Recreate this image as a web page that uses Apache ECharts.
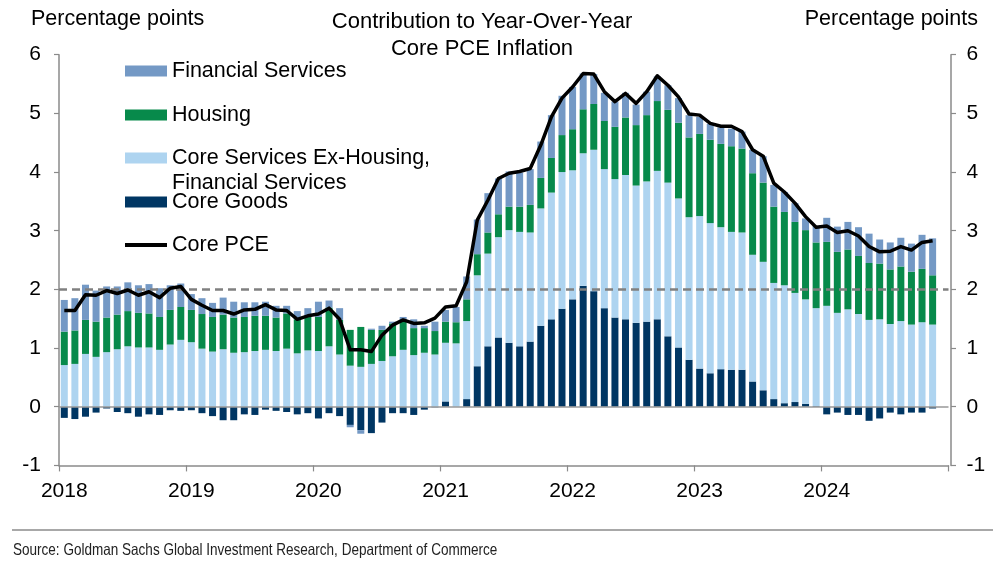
<!DOCTYPE html>
<html>
<head>
<meta charset="utf-8">
<script src="https://cdn.jsdelivr.net/npm/echarts@6/dist/echarts.min.js"></script>
<style>
html,body{margin:0;padding:0;background:#fff;}
#chart{width:993px;height:572px;}
</style>
</head>
<body>
<div id="chart"></div>
<script>
// Monthly categories: Jan 2018 .. Dec 2024 (data runs to Nov 2024)
const months = [];
for (let y = 2018; y <= 2024; y++) {
  for (let m = 1; m <= 12; m++) {
    months.push(y + '-' + String(m).padStart(2, '0'));
  }
}
const yearLabels = ['2018','2019','2020','2021','2022','2023','2024'];

const coreGoods = [
 -0.19,-0.21,-0.17,-0.10,-0.03,-0.09,-0.11,-0.17,-0.13,-0.14,-0.06,-0.07,
 -0.06,-0.11,-0.16,-0.23,-0.23,-0.13,-0.14,-0.05,-0.07,-0.09,-0.13,-0.11,
 -0.20,-0.11,-0.16,-0.31,-0.40,-0.45,-0.27,-0.11,-0.11,-0.14,-0.05,-0.01,
 0.09,0.00,0.13,0.69,1.03,1.18,1.09,1.03,1.11,1.38,1.49,1.67,
 1.83,2.06,1.97,1.68,1.52,1.49,1.43,1.45,1.49,1.20,1.01,0.80,
 0.65,0.57,0.64,0.63,0.63,0.43,0.28,0.13,0.06,0.08,0.05,0.01,
 -0.13,-0.10,-0.14,-0.14,-0.24,-0.20,-0.10,-0.13,-0.10,-0.10,-0.03
];
const coreServicesExHousingFin = [
 0.71,0.73,0.90,0.85,0.93,0.98,1.03,1.01,1.01,0.97,1.06,1.14,
 1.10,0.99,0.94,0.98,0.92,0.93,0.95,0.97,0.95,0.99,0.91,0.96,
 0.95,1.03,0.89,0.70,0.68,0.73,0.78,0.86,0.97,0.88,0.92,0.89,
 1.00,1.08,1.33,1.55,1.58,1.71,1.92,1.95,1.86,2.00,2.16,2.33,
 2.20,2.26,2.41,2.37,2.36,2.46,2.34,2.39,2.53,2.62,2.54,2.43,
 2.60,2.56,2.42,2.35,2.34,2.16,2.19,1.98,2.01,1.86,1.78,1.67,
 1.72,1.60,1.66,1.58,1.48,1.49,1.41,1.46,1.40,1.44,1.40
];
const housing = [
 0.57,0.57,0.58,0.60,0.59,0.59,0.60,0.59,0.58,0.56,0.59,0.56,
 0.55,0.59,0.59,0.59,0.60,0.60,0.60,0.58,0.57,0.60,0.58,0.57,
 0.58,0.66,0.59,0.61,0.68,0.58,0.53,0.56,0.51,0.46,0.42,0.40,
 0.36,0.36,0.37,0.36,0.36,0.39,0.40,0.43,0.47,0.52,0.59,0.63,
 0.70,0.75,0.78,0.82,0.89,0.98,1.03,1.13,1.19,1.24,1.29,1.36,
 1.40,1.42,1.42,1.46,1.43,1.39,1.35,1.30,1.25,1.21,1.18,1.12,
 1.09,1.04,1.02,0.99,0.97,0.95,0.93,0.93,0.90,0.91,0.84
];
const financialServices = [
 0.54,0.55,0.60,0.53,0.53,0.48,0.49,0.47,0.50,0.49,0.42,0.40,
 0.27,0.27,0.24,0.29,0.27,0.25,0.23,0.24,0.20,0.13,0.14,0.15,
 0.26,0.12,0.20,-0.04,-0.06,0.02,0.07,0.03,0.05,0.15,0.04,0.16,
 0.20,0.26,0.39,0.59,0.67,0.61,0.60,0.58,0.61,0.62,0.73,0.67,
 0.72,0.61,0.51,0.48,0.43,0.42,0.35,0.40,0.42,0.42,0.42,0.38,
 0.29,0.27,0.28,0.30,0.29,0.40,0.45,0.37,0.34,0.32,0.20,0.28,
 0.41,0.43,0.47,0.49,0.50,0.41,0.46,0.49,0.48,0.58,0.63
];
const corePCE = [
 1.64,1.64,1.91,1.90,1.98,1.93,1.99,1.90,1.96,1.86,2.02,2.05,
 1.83,1.73,1.64,1.64,1.58,1.65,1.66,1.74,1.65,1.64,1.49,1.55,
 1.58,1.68,1.49,0.97,0.97,0.94,1.22,1.39,1.48,1.42,1.43,1.51,
 1.70,1.72,2.13,3.18,3.52,3.89,3.98,4.01,4.06,4.46,4.94,5.26,
 5.45,5.68,5.67,5.37,5.20,5.34,5.17,5.37,5.64,5.48,5.28,4.99,
 4.97,4.83,4.78,4.78,4.69,4.38,4.27,3.81,3.66,3.47,3.24,3.06,
 3.08,2.97,3.00,2.91,2.73,2.64,2.65,2.73,2.67,2.80,2.83
];

const COLORS = {
  fin: '#7499c5',
  housing: '#078a4b',
  svc: '#aed4f0',
  goods: '#003663',
  pce: '#000000',
  axis: '#8a8a8a'
};
const FONT = "'Liberation Sans', Arial, sans-serif";

const chart = echarts.init(document.getElementById('chart'), null, {renderer: 'canvas'});

function legendFor(name, top, color, isLine) {
  return {
    show: true,
    orient: 'vertical',
    left: 125,
    top: top,
    padding: 0,
    itemWidth: 42,
    itemHeight: isLine ? 4 : 11,
    selectedMode: false,
    data: [{name: name, icon: 'rect', itemStyle: {color: color, borderWidth: 0}}],
    textStyle: {fontFamily: FONT, fontSize: 21.5, color: '#000', lineHeight: 24}
  };
}

const isJan = idx => idx % 12 === 0;

const option = {
  animation: false,
  backgroundColor: '#fff',
  grid: {left: 59, right: 44.5, top: 54.7, bottom: 106.6, containLabel: false},
  legend: [
    legendFor('Financial Services', 59, COLORS.fin, false),
    legendFor('Housing', 103, COLORS.housing, false),
    legendFor('Core Services Ex-Housing,', 146, COLORS.svc, false),
    legendFor('Core Goods', 190, COLORS.goods, false),
    legendFor('Core PCE', 233, COLORS.pce, true)
  ],
  xAxis: {
    type: 'category',
    data: months,
    boundaryGap: true,
    axisLine: {show: true, onZero: false, lineStyle: {color: COLORS.axis, width: 1.5}},
    axisTick: {show: true, length: 6, inside: false, alignWithLabel: false,
      interval: isJan, lineStyle: {color: COLORS.axis, width: 1.2}},
    axisLabel: {show: true, fontFamily: FONT, fontSize: 21, color: '#000', margin: 15,
      interval: isJan, formatter: v => v.slice(0, 4)},
    splitLine: {show: false}
  },
  yAxis: [
    {
      type: 'value', position: 'left', min: -1, max: 6, interval: 1,
      axisLine: {show: true, lineStyle: {color: COLORS.axis, width: 1.5}},
      axisTick: {show: true, length: 5, inside: false, lineStyle: {color: COLORS.axis, width: 1.2}},
      axisLabel: {fontFamily: FONT, fontSize: 21, color: '#000', margin: 18},
      splitLine: {show: false}
    },
    {
      type: 'value', position: 'right', offset: 2.5, min: -1, max: 6, interval: 1,
      axisLine: {show: true, lineStyle: {color: COLORS.axis, width: 1.5}},
      axisTick: {show: true, length: 5, inside: false, lineStyle: {color: COLORS.axis, width: 1.2}},
      axisLabel: {fontFamily: FONT, fontSize: 21, color: '#000', margin: 15.5},
      splitLine: {show: false}
    }
  ],
  series: [
    {
      name: 'Core Goods', type: 'bar', stack: 'c', barWidth: 7,
      itemStyle: {color: COLORS.goods}, data: coreGoods
    },
    {
      name: 'Core Services Ex-Housing,', type: 'bar', stack: 'c', barWidth: 7,
      itemStyle: {color: COLORS.svc}, data: coreServicesExHousingFin
    },
    {
      name: 'Housing', type: 'bar', stack: 'c', barWidth: 7,
      itemStyle: {color: COLORS.housing}, data: housing
    },
    {
      name: 'Financial Services', type: 'bar', stack: 'c', barWidth: 7,
      itemStyle: {color: COLORS.fin}, data: financialServices,
      markLine: {
        silent: true, symbol: 'none', z: 5,
        label: {show: false},
        data: [
          {yAxis: 0, lineStyle: {color: '#999999', width: 1.5, type: 'solid'}},
          {yAxis: 2, lineStyle: {color: '#808080', width: 2.5, type: [8, 5]}}
        ]
      }
    },
    {
      name: 'Core PCE', type: 'line', z: 8, showSymbol: false, symbol: 'none',
      lineStyle: {color: COLORS.pce, width: 3.5, join: 'round'},
      itemStyle: {color: COLORS.pce},
      data: corePCE
    }
  ],
  graphic: [
    {type: 'text', left: 31, top: 8, style: {text: 'Percentage points', font: '21.5px ' + FONT, fill: '#000'}},
    {type: 'text', right: 15, top: 8, style: {text: 'Percentage points', font: '21.5px ' + FONT, fill: '#000'}},
    {type: 'text', x: 482, y: 22, style: {text: 'Contribution to Year-Over-Year', font: '22px ' + FONT, fill: '#000', align: 'center', verticalAlign: 'middle'}},
    {type: 'text', x: 482, y: 49, style: {text: 'Core PCE Inflation', font: '22px ' + FONT, fill: '#000', align: 'center', verticalAlign: 'middle'}},
    {type: 'text', x: 172, y: 183, style: {text: 'Financial Services', font: '21.5px ' + FONT, fill: '#000', align: 'left', verticalAlign: 'middle'}},
    {type: 'line', shape: {x1: 12, y1: 530, x2: 993, y2: 530}, style: {stroke: '#a8a8a8', lineWidth: 2}},
    {type: 'text', x: 13, y: 550, scaleX: 0.82, scaleY: 1, style: {text: 'Source: Goldman Sachs Global Investment Research, Department of Commerce', font: '16.5px ' + FONT, fill: '#222', align: 'left', verticalAlign: 'middle'}}
  ]
};
chart.setOption(option);
</script>
</body>
</html>
